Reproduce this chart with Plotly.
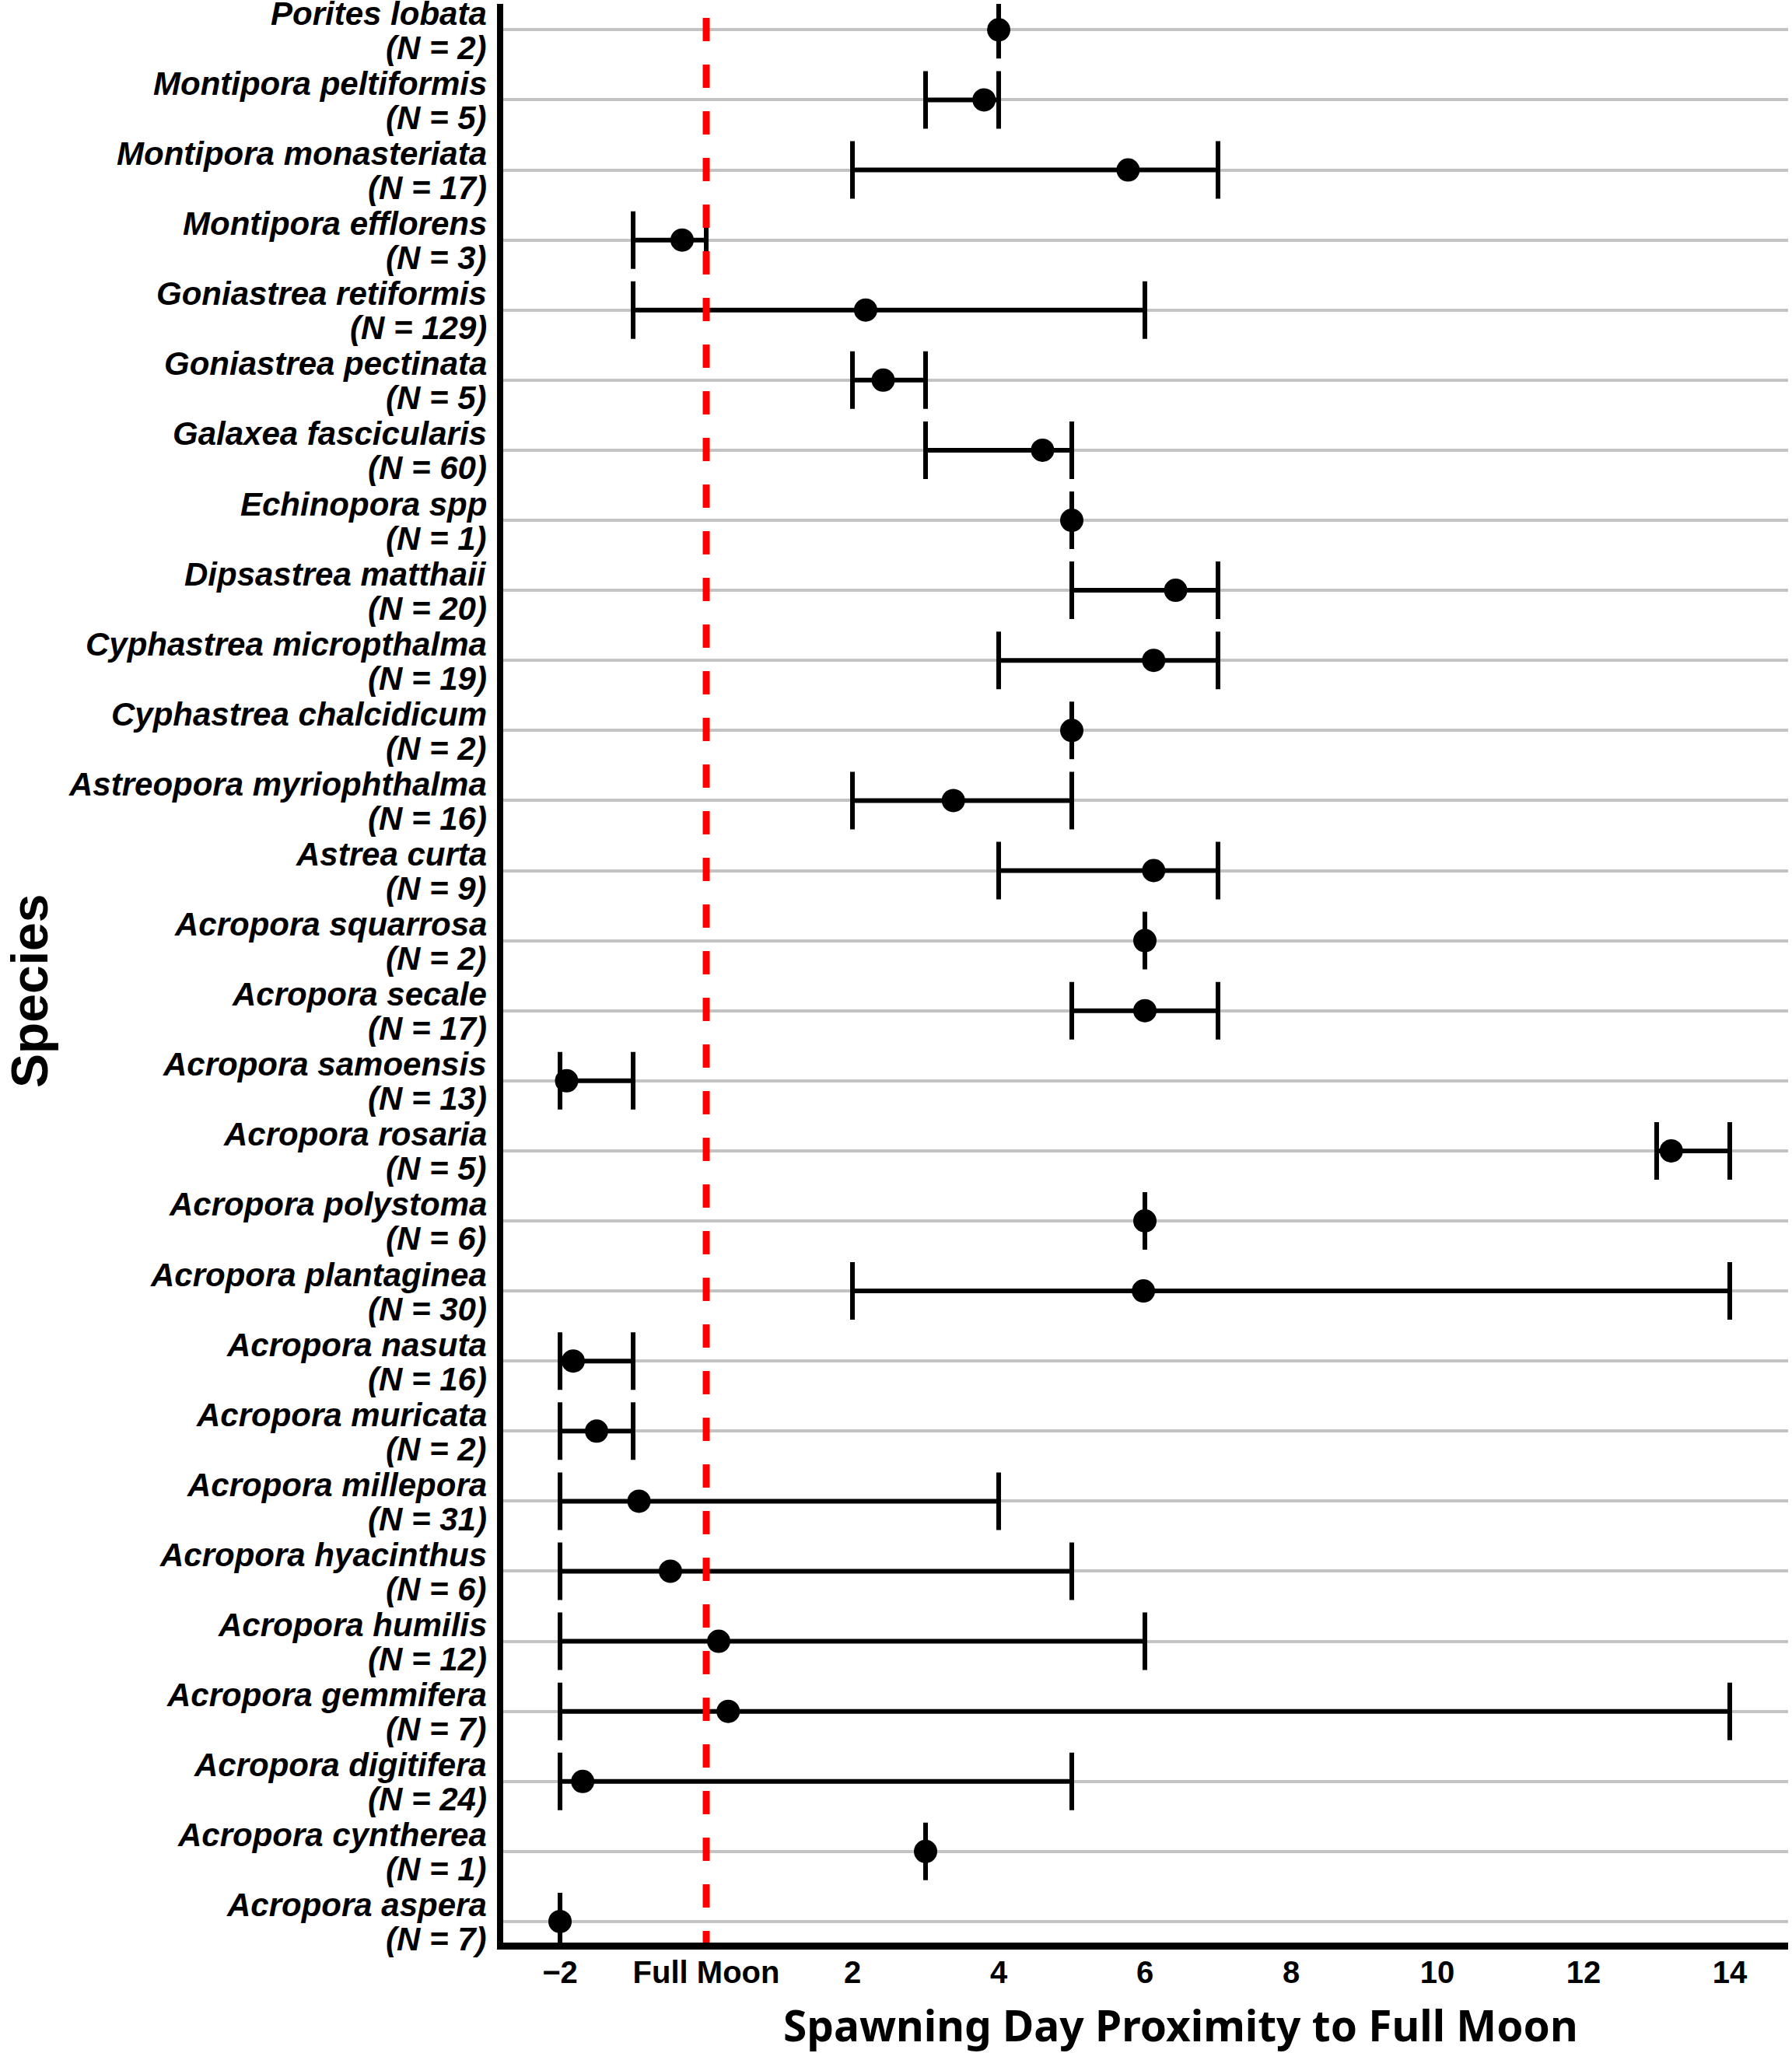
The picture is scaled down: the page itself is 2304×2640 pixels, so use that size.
import plotly.graph_objects as go

# species listed top to bottom as they appear on the chart
species = [
    "Porites lobata", "Montipora peltiformis", "Montipora monasteriata",
    "Montipora efflorens", "Goniastrea retiformis", "Goniastrea pectinata",
    "Galaxea fascicularis", "Echinopora spp", "Dipsastrea matthaii",
    "Cyphastrea micropthalma", "Cyphastrea chalcidicum", "Astreopora myriophthalma",
    "Astrea curta", "Acropora squarrosa", "Acropora secale", "Acropora samoensis",
    "Acropora rosaria", "Acropora polystoma", "Acropora plantaginea",
    "Acropora nasuta", "Acropora muricata", "Acropora millepora",
    "Acropora hyacinthus", "Acropora humilis", "Acropora gemmifera",
    "Acropora digitifera", "Acropora cyntherea", "Acropora aspera",
]
n_obs = [2, 5, 17, 3, 129, 5, 60, 1, 20, 19, 2, 16, 9, 2, 17, 13, 5, 6, 30, 16, 2, 31, 6, 12, 7, 24, 1, 7]
mean_day = [4.0, 3.8, 5.77, -0.33, 2.18, 2.42, 4.6, 5.0, 6.42, 6.12, 5.0, 3.38, 6.12, 6.0, 6.0, -1.91,
            13.2, 6.0, 5.98, -1.82, -1.5, -0.92, -0.49, 0.17, 0.3, -1.69, 3.0, -2.0]
min_day = [4, 3, 2, -1, -1, 2, 3, 5, 5, 4, 5, 2, 4, 6, 5, -2, 13, 6, 2, -2, -2, -2, -2, -2, -2, -2, 3, -2]
max_day = [4, 4, 7, 0, 6, 3, 5, 5, 7, 7, 5, 5, 7, 6, 7, -1, 14, 6, 14, -1, -1, 4, 5, 6, 14, 5, 3, -2]

x_tickvals = [-2, 0, 2, 4, 6, 8, 10, 12, 14]
x_ticktext = ["\u22122", "Full Moon", "2", "4", "6", "8", "10", "12", "14"]

err_plus = [hi - m for hi, m in zip(max_day, mean_day)]
err_minus = [m - lo for m, lo in zip(mean_day, min_day)]

W, H = 2304, 2640
M_L, M_R, M_T, M_B = 647, 5, 5, 142
plot_w = W - M_L - M_R
plot_h = H - M_T - M_B

ARIAL = "Liberation Sans, Arial, sans-serif"

fig = go.Figure()

fig.add_trace(
    go.Scatter(
        x=mean_day,
        y=species,
        mode="markers",
        marker=dict(size=30, color="black"),
        error_x=dict(
            type="data",
            symmetric=False,
            array=err_plus,
            arrayminus=err_minus,
            color="black",
            thickness=6,
            width=37,
        ),
        showlegend=False,
    )
)

# full moon reference line
fig.add_shape(
    type="line",
    xref="x", yref="paper",
    x0=0, x1=0, y0=1 + 42 / plot_h, y1=0,
    line=dict(color="#ff0000", width=9, dash="30px,30px"),
    layer="above",
)

label_font = dict(family=ARIAL, size=42, color="black", weight="bold", style="italic")
annotations = []
for name, n in zip(species, n_obs):
    annotations.append(dict(
        x=0, xref="paper", y=name, yref="y",
        text=name, showarrow=False, xanchor="right", yanchor="middle",
        xshift=-19, yshift=21, font=label_font,
    ))
    annotations.append(dict(
        x=0, xref="paper", y=name, yref="y",
        text=f"(N = {n})", showarrow=False, xanchor="right", yanchor="middle",
        xshift=-19, yshift=-23, font=label_font,
    ))

annotations.append(dict(
    x=(1518 - M_L) / plot_w, xref="paper", y=(plot_h + M_T - 2603) / plot_h, yref="paper",
    text="Spawning Day Proximity to Full Moon", showarrow=False,
    xanchor="center", yanchor="middle",
    font=dict(family="Noto Sans", size=55, color="black", weight="bold"),
))
annotations.append(dict(
    x=(38 - M_L) / plot_w, xref="paper", y=(plot_h + M_T - 1274) / plot_h, yref="paper",
    text="Species", showarrow=False, textangle=-90,
    xanchor="center", yanchor="middle",
    font=dict(family=ARIAL, size=66, color="black", weight="bold"),
))

fig.update_layout(
    width=W,
    height=H,
    margin=dict(l=M_L, r=M_R, t=M_T, b=M_B),
    paper_bgcolor="white",
    plot_bgcolor="white",
    annotations=annotations,
    xaxis=dict(
        range=[-2.777, 14.798],
        tickvals=x_tickvals,
        ticktext=x_ticktext,
        tickfont=dict(family=ARIAL, size=40, color="black", weight="bold"),
        ticklabelstandoff=-5,
        showgrid=False,
        zeroline=False,
        showline=True,
        linecolor="black",
        linewidth=9,
        ticks="",
    ),
    yaxis=dict(
        type="category",
        categoryorder="array",
        categoryarray=species,
        range=[27.3, -0.37],
        showticklabels=False,
        showgrid=True,
        gridcolor="#c3c3c3",
        gridwidth=4,
        zeroline=False,
        showline=True,
        linecolor="black",
        linewidth=8,
        ticks="",
    ),
)

# drop the browser's default page margin so the figure sits at the window corner
fig.write_html(
    "out.html",
    config={"displayModeBar": False},
    post_script="document.body.style.margin = '0';",
)
